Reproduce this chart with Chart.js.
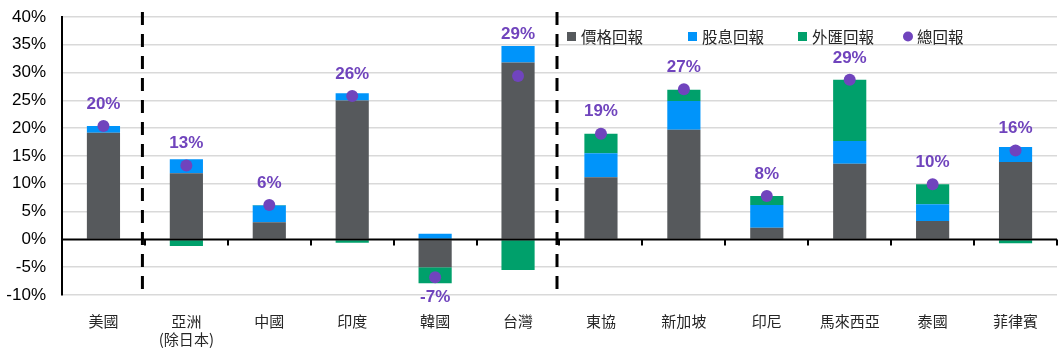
<!DOCTYPE html>
<html>
<head>
<meta charset="utf-8">
<script src="https://cdn.jsdelivr.net/npm/chart.js@4"></script>
<style>
  html, body { margin: 0; padding: 0; background: #fff; }
  #wrap { width: 1064px; height: 358px; }
</style>
</head>
<body>
<div id="wrap"><canvas id="myChart" width="1064" height="358"></canvas></div>
<script>
// chart values (% returns)
const categories = ['美國', ['亞洲', '(除日本)'], '中國', '印度', '韓國', '台灣', '東協', '新加坡', '印尼', '馬來西亞', '泰國', '菲律賓'];
const priceReturn = [19.2, 11.9, 3.1, 25.0, -5.0, 31.8, 11.2, 19.7, 2.1, 13.6, 3.3, 13.9];
const dividendReturn = [1.2, 2.5, 3.0, 1.3, 1.0, 3.0, 4.3, 5.2, 4.1, 4.1, 3.0, 2.7];
const fxReturn = [0.0, -1.2, 0.1, -0.6, -2.9, -5.5, 3.5, 2.0, 1.6, 11.0, 3.6, -0.7];
const totalReturn = [20.4, 13.3, 6.2, 25.8, -6.8, 29.4, 19.0, 27.0, 7.8, 28.7, 9.9, 16.0];
const seriesNames = ['價格回報', '股息回報', '外匯回報', '總回報'];
const yMin = -10, yMax = 40, yStep = 5;
// dashed separators sit after these category indexes
const dividerAfter = [0, 5];

const colors = {
    price: '#56595C',
    dividend: '#0094FA',
    fx: '#00A06B',
    total: '#7044BD'
};

const cjk = '"Noto Sans CJK TC", "Noto Sans CJK SC", sans-serif';
const latin = '"Liberation Sans", Arial, sans-serif';

const extras = {
    id: 'extras',
    afterDatasetsDraw(chart) {
        const ctx = chart.ctx;
        const x = chart.scales.x, y = chart.scales.y;
        const area = chart.chartArea;
        const y0 = y.getPixelForValue(0);
        const half = (x.getPixelForValue(1) - x.getPixelForValue(0)) / 2;

        ctx.save();
        // zero line + small ticks at category borders
        ctx.strokeStyle = '#000';
        ctx.lineWidth = 2;
        ctx.beginPath();
        ctx.moveTo(area.left, y0);
        ctx.lineTo(area.right, y0);
        for (let i = 1; i <= categories.length; i++) {
            const bx = Math.round(x.getPixelForValue(i) - half);
            ctx.moveTo(bx, y0);
            ctx.lineTo(bx, y0 + 6);
        }
        ctx.stroke();

        // dashed dividers
        ctx.lineWidth = 3;
        ctx.setLineDash([13, 9]);
        dividerAfter.forEach(i => {
            const bx = x.getPixelForValue(i) + half - 2.5;
            ctx.beginPath();
            ctx.moveTo(bx, area.top - 5);
            ctx.lineTo(bx, area.bottom + 2);
            ctx.stroke();
        });
        ctx.setLineDash([]);

        // total return labels
        const barMetas = [0, 1, 2].map(i => chart.getDatasetMeta(i));
        ctx.font = 'bold 17px ' + latin;
        ctx.fillStyle = colors.total;
        ctx.textAlign = 'center';
        ctx.textBaseline = 'middle';
        totalReturn.forEach((v, i) => {
            const px = x.getPixelForValue(i);
            const dotY = y.getPixelForValue(v);
            let ly;
            if (v >= 0) {
                let top = y0;
                barMetas.forEach(m => { top = Math.min(top, m.data[i].y, m.data[i].base); });
                ly = Math.min(top - 12, dotY - 22);
            } else {
                ly = dotY + 20;
            }
            ctx.fillText(Math.round(v) + '%', px, ly);
        });

        // legend inside plot area
        const legendX = [567, 688, 798, 903];
        const legendColors = [colors.price, colors.dividend, colors.fx, colors.total];
        const ly = 36.5;
        ctx.font = '15.5px ' + cjk;
        ctx.textAlign = 'left';
        seriesNames.forEach((name, i) => {
            ctx.fillStyle = legendColors[i];
            if (i === 3) {
                ctx.beginPath();
                ctx.arc(legendX[i] + 5, ly, 5, 0, Math.PI * 2);
                ctx.fill();
            } else {
                ctx.fillRect(legendX[i], ly - 4.5, 9, 9);
            }
            ctx.fillStyle = '#262626';
            ctx.fillText(name, legendX[i] + 14, ly + 1);
        });
        ctx.restore();
    }
};

const data = {
    labels: categories,
    datasets: [
        { type: 'bar', label: seriesNames[0], data: priceReturn, backgroundColor: colors.price, order: 1 },
        { type: 'bar', label: seriesNames[1], data: dividendReturn, backgroundColor: colors.dividend, order: 1 },
        { type: 'bar', label: seriesNames[2], data: fxReturn, backgroundColor: colors.fx, order: 1 },
        {
            type: 'line', label: seriesNames[3], data: totalReturn, stack: 'total', order: 0,
            showLine: false, pointRadius: 6, pointHoverRadius: 6, pointBorderWidth: 0,
            pointBackgroundColor: colors.total, borderColor: colors.total
        }
    ]
};

const config = {
    type: 'bar',
    data: data,
    options: {
        responsive: false,
        animation: false,
        events: [],
        layout: { padding: { top: 17, right: 7, left: 0, bottom: 0 } },
        datasets: { bar: { barPercentage: 0.4, categoryPercentage: 1 } },
        plugins: { legend: { display: false }, tooltip: { enabled: false } },
        scales: {
            x: {
                stacked: true,
                grid: { display: false, drawTicks: false },
                border: { display: false },
                ticks: {
                    padding: 17,
                    maxRotation: 0,
                    autoSkip: false,
                    color: '#262626',
                    font: { family: cjk, size: 15, lineHeight: 1.2 }
                },
                afterFit: (s) => { s.height = 63; }
            },
            y: {
                stacked: true,
                min: yMin,
                max: yMax,
                grid: {
                    color: (c) => c.tick && c.tick.value === 0 ? 'rgba(0,0,0,0)' : '#D9D9D9',
                    lineWidth: 1.5,
                    drawTicks: true,
                    tickLength: 16,
                    tickColor: 'rgba(0,0,0,0)'
                },
                border: { display: true, color: '#000', width: 2 },
                ticks: {
                    stepSize: yStep,
                    padding: 0,
                    color: '#000',
                    font: { family: latin, size: 17 },
                    callback: (v) => v + '%'
                },
                afterFit: (s) => { s.width = 62; }
            }
        }
    },
    plugins: [extras]
};

var myChart = new Chart(document.getElementById('myChart'), config);
</script>
</body>
</html>
